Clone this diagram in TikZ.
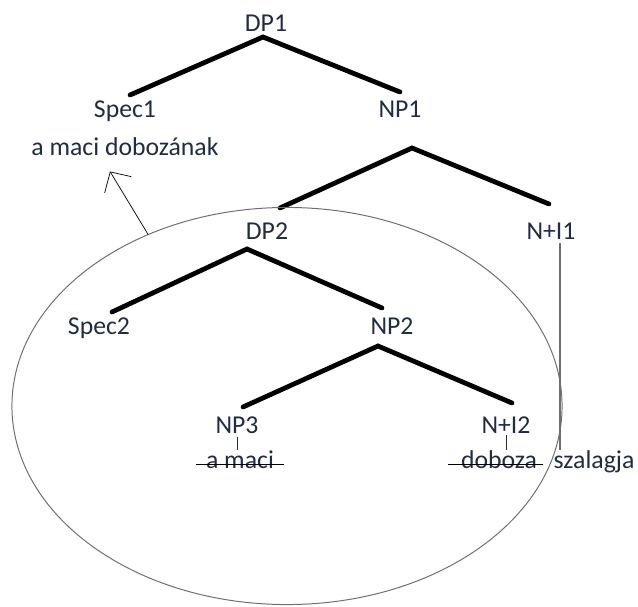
\documentclass[tikz,border=0pt]{standalone}
\usepackage{fontspec}
\setmainfont{Carlito}
\usetikzlibrary{arrows.meta, calc, shapes.geometric}
\definecolor{inkblue}{RGB}{32,44,66}
\definecolor{ringgray}{RGB}{110,110,110}

\begin{document}
\begin{tikzpicture}[x=0.025cm, y=-0.025cm,
  lbl/.style={inner sep=0pt, anchor=base, text=inkblue,
              font=\fontsize{18.3}{20}\selectfont},
  branch/.style={line width=3.4pt, line cap=round},
  link/.style={inkblue, line width=0.6pt},
  strike/.style={black, line width=0.8pt},
  trace/.style={ringgray, line width=0.8pt}]
  \useasboundingbox (0,0) rectangle (638,606);
  % labels of the tree
  \node[lbl] (DP1) at (266,31) {DP1};
  \node[lbl] (Spec1) at (125,117) {Spec1};
  \node[lbl] (NP1) at (400,117) {NP1};
  \node[lbl] (dobozanak) at (125,155) {a maci dobozának};
  \node[lbl] (DP2) at (267,239) {DP2};
  \node[lbl] (NI1) at (551,239) {N+I1};
  \node[lbl] (Spec2) at (99,334) {Spec2};
  \node[lbl] (NP2) at (392,334) {NP2};
  \node[lbl] (NP3) at (237,433) {NP3};
  \node[lbl] (NI2) at (506,433) {N+I2};
  \node[lbl] (amaci) at (240,468) {a maci};
  \node[lbl] (doboza) at (499,468) {doboza};
  \node[lbl] (szalagja) at (594,468) {szalagja};
  % forks
  \coordinate (f1) at (263,37);
  \coordinate (f1l) at (130,95);
  \coordinate (f1r) at (400,92);
  \coordinate (f2) at (412,148);
  \coordinate (f2l) at (280,208);
  \coordinate (f2r) at (549,204);
  \coordinate (f3) at (247,249);
  \coordinate (f3l) at (112,312);
  \coordinate (f3r) at (382,308);
  \coordinate (f4) at (378,346);
  \coordinate (f4l) at (243,407);
  \coordinate (f4r) at (512,403);
  \draw[branch] (f1l) -- (f1) -- (f1r);
  \draw[branch] (f2l) -- (f2) -- (f2r);
  \draw[branch] (f3l) -- (f3) -- (f3r);
  \draw[branch] (f4l) -- (f4) -- (f4r);
  % the moved phrase
  \node[draw=ringgray, ellipse, line width=0.7pt, inner sep=0pt, outer sep=0pt,
        minimum width=13.75cm, minimum height=9.925cm] (ring) at (287,406) {};
  \coordinate (tip) at ($(dobozanak.south)+(-15,16)$);
  \draw[-{Straight Barb[length=0.375cm, width=0.78cm]}, line width=0.5pt]
    (ring.129) -- (tip);
  % leaves
  \draw[link] ([yshift=-0.1cm]NP3.south) -- (NP3.south |- amaci.north);
  \draw[link] ([yshift=-0.05cm]NI2.south) -- (NI2.south |- doboza.north);
  \draw[trace] ([xshift=0.225cm, yshift=-0.1cm]NI1.south)
    -- ([xshift=0.225cm]NI1.south |- szalagja.north);
  \draw[strike] ([xshift=-0.25cm]amaci.mid west) -- ([xshift=0.25cm]amaci.mid east);
  \draw[strike] ([xshift=-0.325cm]doboza.mid west) -- ([xshift=0.15cm]doboza.mid east);
\end{tikzpicture}
\end{document}
